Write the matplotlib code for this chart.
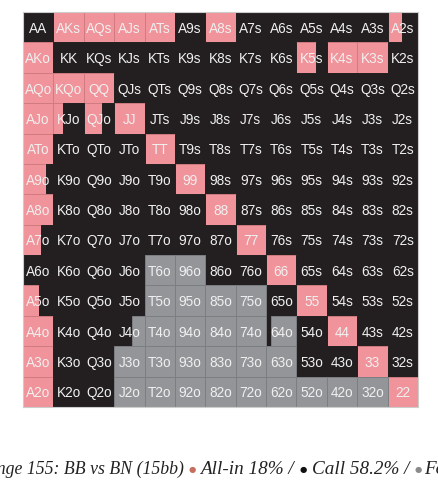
import numpy as np
import matplotlib.pyplot as plt

# ranghi e frequenze (righe = primo rango, colonne = secondo rango)
ranks = ["A", "K", "Q", "J", "T", "9", "8", "7", "6", "5", "4", "3", "2"]

allin_freq = [
    [0, 1, 1, 1, 1, 0, 1, 0, 0, 0, 0, 0, 0.47],
    [1, 0, 0, 0, 0, 0, 0, 0, 0, 0.63, 1, 1, 0],
    [1, 1, 1, 0, 0, 0, 0, 0, 0, 0, 0, 0, 0],
    [1, 0.3, 0.6, 1, 0, 0, 0, 0, 0, 0, 0, 0, 0],
    [1, 0, 0, 0, 1, 0, 0, 0, 0, 0, 0, 0, 0],
    [0.75, 0, 0, 0, 0, 1, 0, 0, 0, 0, 0, 0, 0],
    [1, 0, 0, 0, 0, 0, 1, 0, 0, 0, 0, 0, 0],
    [0.58, 0, 0, 0, 0, 0, 0, 1, 0, 0, 0, 0, 0],
    [0, 0, 0, 0, 0, 0, 0, 0, 1, 0, 0, 0, 0],
    [0.52, 0, 0, 0, 0, 0, 0, 0, 0, 1, 0, 0, 0],
    [1, 0, 0, 0, 0, 0, 0, 0, 0, 0, 1, 0, 0],
    [1, 0, 0, 0, 0, 0, 0, 0, 0, 0, 0, 1, 0],
    [1, 0, 0, 0, 0, 0, 0, 0, 0, 0, 0, 0, 1],
]

fold_freq = [
    [0] * 13,
    [0] * 13,
    [0] * 13,
    [0] * 13,
    [0] * 13,
    [0] * 13,
    [0] * 13,
    [0] * 13,
    [0, 0, 0, 0, 1, 1, 0, 0, 0, 0, 0, 0, 0],
    [0, 0, 0, 0, 1, 1, 1, 1, 0, 0, 0, 0, 0],
    [0, 0, 0, 0.42, 1, 1, 1, 1, 0.85, 0, 0, 0, 0],
    [0, 0, 0, 1, 1, 1, 1, 1, 1, 0, 0, 0, 0],
    [0, 0, 0, 1, 1, 1, 1, 1, 1, 1, 1, 1, 0],
]

caption_main = "Range 155: BB vs BN (15bb)"
caption_items = ["All-in 18% /", "Call 58.2% /", "Fold 23.8%"]

allin_freq = np.array(allin_freq, dtype=float)
fold_freq = np.array(fold_freq, dtype=float)
call_freq = 1 - allin_freq - fold_freq

PINK, BLACK, GRAY = "#f1939a", "#231f20", "#939598"
EDGES = {PINK: "#cf7b80", BLACK: BLACK, GRAY: "#7c7e81"}

fig = plt.figure(figsize=(4.38, 4.89), dpi=100)
ax = fig.add_axes([23 / 438, 81 / 489, 395 / 438, 395 / 489])

# ogni cella: segmenti impilati da sinistra (all-in, call, fold)
for i in range(13):
    left = np.arange(13, dtype=float)
    for freq, col in [(allin_freq[i], PINK), (call_freq[i], BLACK), (fold_freq[i], GRAY)]:
        mask = freq > 0
        ax.barh(np.full(mask.sum(), i), freq[mask], left=left[mask], height=1,
                align="edge", color=col, edgecolor=EDGES[col], linewidth=0.7)
        left = left + freq

for i in range(13):
    for j in range(13):
        if i == j:
            lab = ranks[i] + ranks[j]
        elif i < j:
            lab = ranks[i] + ranks[j] + "s"
        else:
            lab = ranks[j] + ranks[i] + "o"
        ax.text(j + 0.5, i + 0.52, lab, ha="center", va="center", color="#f0f0f0",
                fontsize=9.8, family="Liberation Sans")

ax.set_xlim(0, 13)
ax.set_ylim(13, 0)
ax.set_xticks([])
ax.set_yticks([])
for s in ax.spines.values():
    s.set_color("#cccccc")
    s.set_linewidth(0.8)

# didascalia (tagliata ai bordi come nell'originale)
y_cap = 1 - 474 / 489
fig.text(184 / 438, y_cap, caption_main, ha="right", va="baseline", fontsize=12.8,
         family="Liberation Serif", style="italic", color="#222222")
dot_x = [192, 303, 418]
dot_c = ["#c4705c", "#111111", "#8a8a8a"]
txt_x = [200, 312, 424]
for dx, dc, tx, item in zip(dot_x, dot_c, txt_x, caption_items):
    fig.text(dx / 438, 1 - 470 / 489, "\u25cf", ha="center", va="center", fontsize=6,
             color=dc, family="DejaVu Sans")
    fig.text(tx / 438, y_cap, item, ha="left", va="baseline", fontsize=13.8,
             family="Liberation Serif", style="italic", color="#222222")

fig.savefig("out.png", dpi=100)
